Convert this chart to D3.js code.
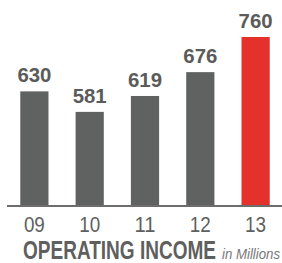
<!DOCTYPE html>
<html><head><meta charset="utf-8">
<script src="https://cdn.jsdelivr.net/npm/d3@7"></script>
<style>html,body{margin:0;padding:0;background:#fff;overflow:hidden}</style>
</head><body>
<svg id="c" width="282" height="263"></svg>
<script>
const years = ["09", "10", "11", "12", "13"];
const values = [630, 581, 619, 676, 760];
const barColors = ["#606161", "#606161", "#606161", "#606161", "#e5312b"];
const titleMain = "OPERATING INCOME";
const titleSub = "in Millions";

const FONT = "Liberation Sans Narrow, Liberation Sans, Arial, sans-serif";
const svg = d3.select("#c");
const baseY = 206;
const x = d3.scaleBand().domain(years).range([7, 283]).paddingInner(0.49).paddingOuter(0.24);
const y = d3.scaleLinear().domain([356, 760]).range([baseY, 37]);

svg.selectAll("rect.bar").data(values).join("rect")
  .attr("class", "bar")
  .attr("x", (d, i) => x(years[i]))
  .attr("width", x.bandwidth())
  .attr("y", d => y(d))
  .attr("height", d => baseY - y(d))
  .attr("fill", (d, i) => barColors[i]);

svg.selectAll("text.val").data(values).join("text")
  .attr("class", "val")
  .attr("x", (d, i) => x(years[i]) + x.bandwidth() / 2)
  .attr("y", d => y(d) - 9)
  .attr("text-anchor", "middle")
  .attr("font-family", FONT)
  .attr("font-weight", "bold")
  .attr("font-size", 21)
  .attr("textLength", 34)
  .attr("lengthAdjust", "spacingAndGlyphs")
  .attr("fill", "#5b5b5b")
  .text(d => d);

const axis = d3.axisBottom(x).tickSize(0).tickPadding(0);
const gx = svg.append("g").attr("transform", `translate(0,${baseY})`).call(axis);
gx.select(".domain").remove();
svg.append("line").attr("x1", 7).attr("x2", 282).attr("y1", baseY).attr("y2", baseY)
  .attr("stroke", "#6d6d6d").attr("stroke-width", 2);
gx.selectAll(".tick text")
  .attr("y", 26).attr("dy", 0)
  .attr("font-family", FONT)
  .attr("font-size", 22)
  .attr("textLength", 21)
  .attr("lengthAdjust", "spacingAndGlyphs")
  .attr("fill", "#5f5f5f");

svg.append("text")
  .attr("x", 23).attr("y", 259)
  .attr("font-family", FONT)
  .attr("font-weight", "bold")
  .attr("font-size", 25)
  .attr("textLength", 193)
  .attr("lengthAdjust", "spacingAndGlyphs")
  .attr("fill", "#5f5f5f")
  .text(titleMain);

svg.append("text")
  .attr("x", 222).attr("y", 259)
  .attr("font-family", FONT)
  .attr("font-style", "italic")
  .attr("font-size", 15)
  .attr("textLength", 58)
  .attr("lengthAdjust", "spacingAndGlyphs")
  .attr("fill", "#777")
  .text(titleSub);
</script>
</body></html>
